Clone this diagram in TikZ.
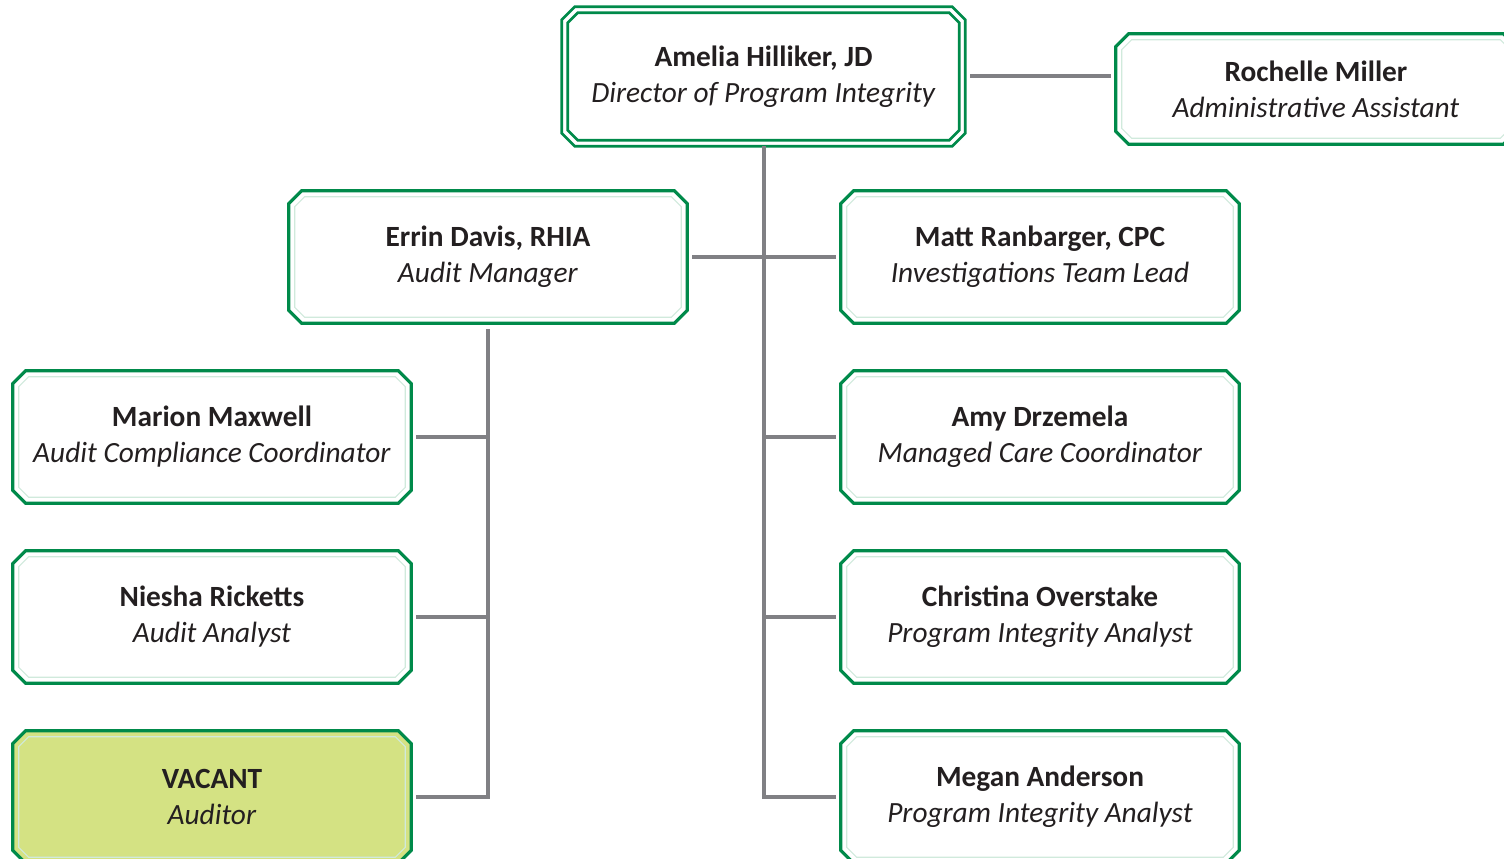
\documentclass[tikz,border=0pt]{standalone}
\usepackage{fontspec}
\setmainfont{Carlito}
\usetikzlibrary{backgrounds,calc}
\definecolor{grn}{RGB}{0,138,74}
\definecolor{lgrn}{RGB}{208,234,220}
\definecolor{conncol}{RGB}{128,128,132}
\definecolor{lime}{RGB}{212,226,131}
\definecolor{txt}{RGB}{35,31,32}
\tikzset{
  box/.style={rectangle, draw=none, align=center, text=txt, inner sep=0pt,
    font=\fontsize{22}{27}\selectfont, minimum width=298.5pt, minimum height=99pt},
  boxline/.style={draw=grn, line width=2.4pt, line join=miter},
  innerline/.style={draw=lgrn, line width=0.8pt},
  connector/.style={draw=conncol, line width=3pt},
}
% #1 style, #2 node, #3 inset, #4 chamfer
\newcommand\chamfdraw[4]{%
  \path[#1] ([xshift={#3+#4},yshift={-#3}]#2.north west)
    -- ([xshift={-#3-#4},yshift={-#3}]#2.north east)
    -- ([xshift={-#3},yshift={-#3-#4}]#2.north east)
    -- ([xshift={-#3},yshift={#3+#4}]#2.south east)
    -- ([xshift={-#3-#4},yshift={#3}]#2.south east)
    -- ([xshift={#3+#4},yshift={#3}]#2.south west)
    -- ([xshift={#3},yshift={#3+#4}]#2.south west)
    -- ([xshift={#3},yshift={-#3-#4}]#2.north west) -- cycle;}
% #1 name #2 position #3 name text #4 title #5 fill
\newcommand\orgbox[5]{%
  \node[box] (#1) at (#2) {\textbf{#3}\\\textit{#4}};
  \begin{pgfonlayer}{background}
    \chamfdraw{fill=#5}{#1}{0pt}{9.75pt}
    \chamfdraw{boxline}{#1}{0pt}{9.75pt}
    \chamfdraw{innerline}{#1}{4.5pt}{7.5pt}
  \end{pgfonlayer}}
\begin{document}
\begin{tikzpicture}[x=0.75pt,y=-0.75pt]
\useasboundingbox (0,0) rectangle (1504,859);
% top box with double line
\node[box, minimum width=302.25pt, minimum height=104.25pt] (top) at (763.5,76.5)
  {\textbf{Amelia Hilliker, JD}\\\textit{Director of Program Integrity}};
\begin{pgfonlayer}{background}
  \chamfdraw{fill=white}{top}{0pt}{9.75pt}
  \chamfdraw{boxline, line width=2pt}{top}{0pt}{9.75pt}
  \chamfdraw{boxline, line width=2pt}{top}{4.5pt}{7.5pt}
\end{pgfonlayer}
\node[box, minimum width=300pt, minimum height=82.5pt] (roch) at (1316,89)
  {\textbf{Rochelle Miller}\\\textit{Administrative Assistant}};
\begin{pgfonlayer}{background}
  \chamfdraw{fill=white}{roch}{0pt}{9.75pt}
  \chamfdraw{boxline}{roch}{0pt}{9.75pt}
  \chamfdraw{innerline}{roch}{4.5pt}{7.5pt}
\end{pgfonlayer}
\orgbox{errin}{488,257}{Errin Davis, RHIA}{Audit Manager}{white}
\orgbox{matt}{1040,257}{Matt Ranbarger, CPC}{Investigations Team Lead}{white}
\orgbox{marion}{212,437}{Marion Maxwell}{Audit Compliance Coordinator}{white}
\orgbox{amy}{1040,437}{Amy Drzemela}{Managed Care Coordinator}{white}
\orgbox{niesha}{212,617}{Niesha Ricketts}{Audit Analyst}{white}
\orgbox{christina}{1040,617}{Christina Overstake}{Program Integrity Analyst}{white}
\orgbox{vacant}{212,797}{VACANT}{Auditor}{lime}
\orgbox{megan}{1040,797}{Megan Anderson}{Program Integrity Analyst}{white}
% connectors
\begin{pgfonlayer}{background}
\draw[connector] (top.south) -- (top.south |- megan.west) -- (megan.west) [shorten >=3.75pt];
\end{pgfonlayer}
\draw[connector, shorten <=3.75pt, shorten >=3.75pt] (top.east) -- (top.east -| roch.west);
\draw[connector, shorten <=3.75pt, shorten >=3.75pt] (errin.east) -- (matt.west);
\draw[connector, shorten >=3.75pt] (top.south |- amy.west) -- (amy.west);
\draw[connector, shorten >=3.75pt] (top.south |- christina.west) -- (christina.west);
\draw[connector, shorten <=4.5pt, shorten >=3.75pt] (errin.south) -- (errin.south |- vacant.east) -- (vacant.east);
\draw[connector, shorten >=3.75pt] (errin.south |- marion.east) -- (marion.east);
\draw[connector, shorten >=3.75pt] (errin.south |- niesha.east) -- (niesha.east);
\end{tikzpicture}
\end{document}
